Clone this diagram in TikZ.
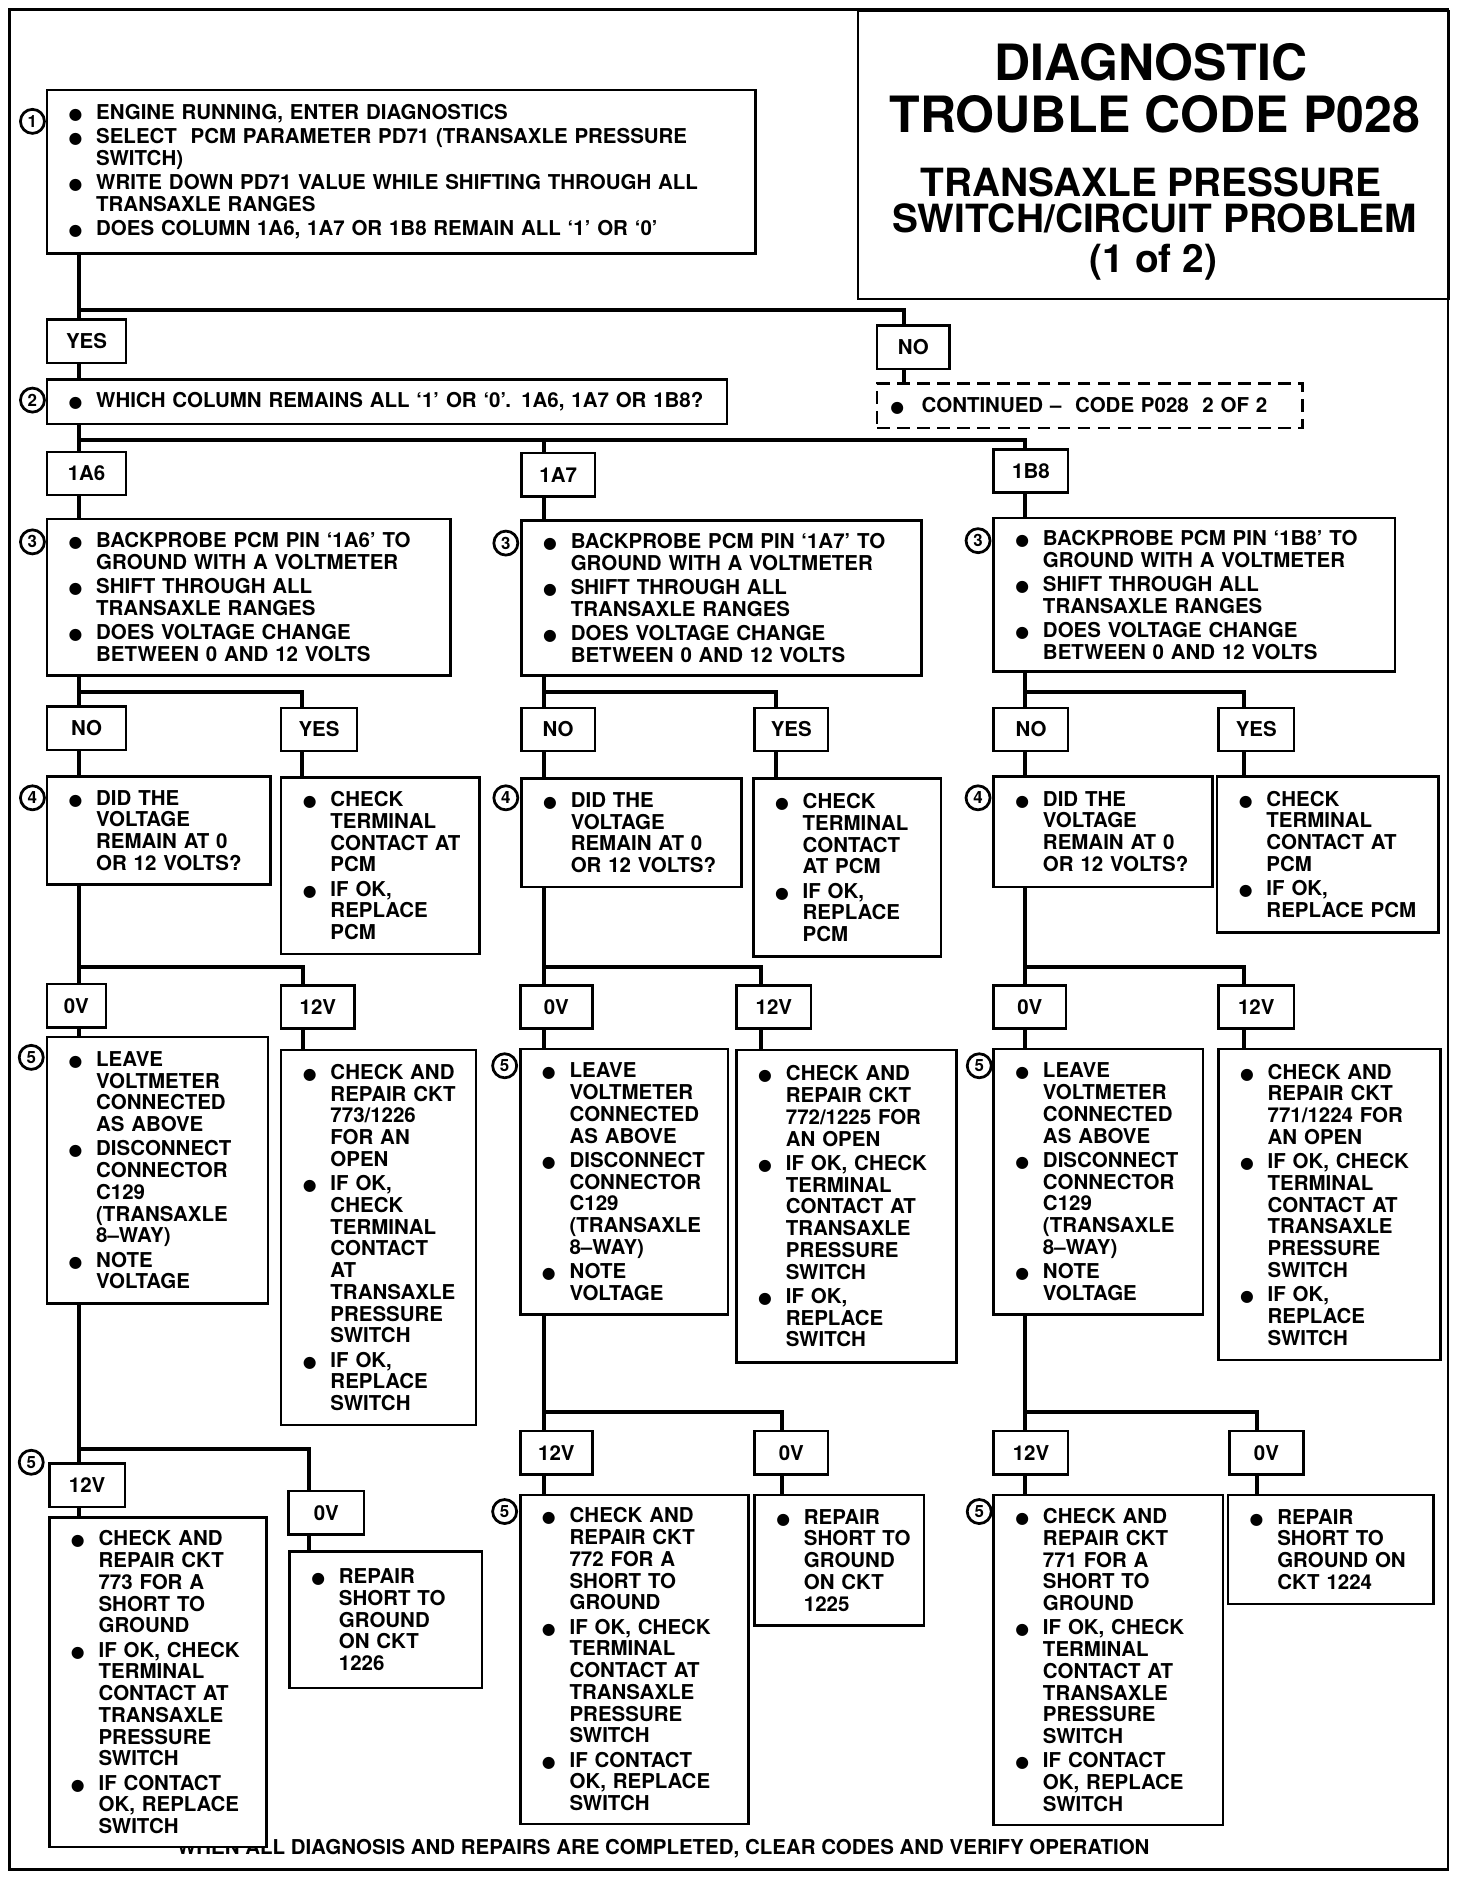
\documentclass[tikz,border=0pt]{standalone}
\usepackage{fontspec}
\setmainfont{TeX Gyre Heros}
\newfontfamily\symfont{DejaVu Sans}
\usetikzlibrary{calc}
% bullet lines inside the step boxes
\newcommand{\bdot}{{\symfont\fontsize{7.5}{7}\selectfont ●}}
\newcommand{\bul}{\hspace*{0.26cm}\makebox[0.46cm][l]{\bdot}}
\newcommand{\hng}{\hspace*{0.72cm}}
\newcommand{\nxt}{\\[1.2pt]\bul}
\begin{document}
\begin{tikzpicture}[x=0.02cm,y=-0.02cm,
    txt/.style 2 args={draw,line width=1.2pt,fill=white,anchor=north west,inner xsep=0.1cm,inner ysep=0pt,
      align=left,text width=#1,minimum height=#2,font=\fontsize{9.7}{10.3}\selectfont\bfseries},
    lbl/.style={draw,line width=1.2pt,fill=white,anchor=north west,inner sep=0pt,minimum height=0.72cm,
      minimum width=#1,font=\fontsize{9.7}{10.3}\selectfont\bfseries},
    num/.style={circle,draw,line width=1.3pt,fill=white,inner sep=0pt,minimum size=0.4cm,
      font=\fontsize{8}{8}\selectfont\bfseries},
    link/.style={line width=1.9pt}]
    \useasboundingbox (0,0) rectangle (1225,1568);

    % frame and title
    \draw[line width=1.2pt] (8,8) rectangle (1205,1556);
    \node[draw,line width=1.2pt,anchor=north west,minimum width=9.84cm,minimum height=4.8cm] (ttl) at (713,8) {};
    \node[font=\fontsize{23.7}{24}\selectfont\bfseries] (t1) at (958,52) {DIAGNOSTIC};
    \node[font=\fontsize{23.7}{24}\selectfont\bfseries] (t2) at (961,95) {TROUBLE CODE P028};
    \node[font=\fontsize{18.4}{18}\selectfont\bfseries] (t3) at (958,152) {TRANSAXLE PRESSURE};
    \node[font=\fontsize{18.4}{18}\selectfont\bfseries] (t4) at (961,182) {SWITCH/CIRCUIT PROBLEM};
    \node[font=\fontsize{18.4}{18}\selectfont\bfseries] (t5) at (960,218) {(1 of 2)};

    \node[font=\fontsize{9.7}{10.3}\selectfont\bfseries] (foot) at (552,1539)
        {WHEN ALL DIAGNOSIS AND REPAIRS ARE COMPLETED, CLEAR CODES AND VERIFY OPERATION};

    % column lines
    \coordinate (ca) at (66,0);  \coordinate (cb) at (453,0);  \coordinate (cc) at (853,0);
    \coordinate (cn) at (752,0);
    \coordinate (ya) at (251,0); \coordinate (yb) at (646,0);  \coordinate (yc) at (1035,0);
    \coordinate (va) at (252,0); \coordinate (vb) at (633,0);  \coordinate (vc) at (1035,0);
    \coordinate (ga) at (257,0); \coordinate (gb) at (651,0);  \coordinate (gc) at (1046,0);
    \coordinate (j1) at (66,258);  \coordinate (j2) at (66,366);
    \coordinate (j3a) at (66,576); \coordinate (j3b) at (453,576); \coordinate (j3c) at (853,576);
    \coordinate (j4a) at (66,805); \coordinate (j4b) at (453,805); \coordinate (j4c) at (853,805);
    \coordinate (j5a) at (66,1206); \coordinate (j5b) at (453,1175); \coordinate (j5c) at (853,1175);

    % step 1 and 2
    \node[txt={11.6cm}{2.72cm}] (q1) at (38,74) {\bul ENGINE RUNNING, ENTER DIAGNOSTICS\nxt
        SELECT\ \ PCM PARAMETER PD71 (TRANSAXLE PRESSURE\\ \hng SWITCH)\nxt
        WRITE DOWN PD71 VALUE WHILE SHIFTING THROUGH ALL\\ \hng TRANSAXLE RANGES\nxt
        DOES COLUMN 1A6, 1A7 OR 1B8 REMAIN ALL `1' OR `0'};
    \node[lbl=1.32cm] (yes1) at (38,265) {YES};
    \node[lbl=1.2cm] (no1) at (729,270) {NO};
    \node[txt={6.88cm}{0.74cm},dash pattern=on 6pt off 3.5pt] (cont) at (729,318)
        {\hspace*{0.12cm}\makebox[0.52cm][l]{\bdot}CONTINUED --\ \ CODE P028\ \ 2 OF 2};
    \node[txt={11.12cm}{0.74cm}] (q2) at (38,315) {\bul WHICH COLUMN REMAINS ALL `1' OR `0'. 1A6, 1A7 OR 1B8?};
    \node[lbl=1.32cm] (hda) at (38,375) {1A6};
    \node[lbl=1.22cm] (hdb) at (433,376) {1A7};
    \node[lbl=1.24cm] (hdc) at (826,373) {1B8};

    % step 3
    \node[txt={6.52cm}{2.6cm}] (q3a) at (38,431) {\bul BACKPROBE PCM PIN `1A6' TO\\ \hng GROUND WITH A VOLTMETER\nxt
        SHIFT THROUGH ALL\\ \hng TRANSAXLE RANGES\nxt DOES VOLTAGE CHANGE\\ \hng BETWEEN 0 AND 12 VOLTS};
    \node[txt={6.46cm}{2.58cm}] (q3b) at (433,432) {\bul BACKPROBE PCM PIN `1A7' TO\\ \hng GROUND WITH A VOLTMETER\nxt
        SHIFT THROUGH ALL\\ \hng TRANSAXLE RANGES\nxt DOES VOLTAGE CHANGE\\ \hng BETWEEN 0 AND 12 VOLTS};
    \node[txt={6.48cm}{2.56cm}] (q3c) at (826,430) {\bul BACKPROBE PCM PIN `1B8' TO\\ \hng GROUND WITH A VOLTMETER\nxt
        SHIFT THROUGH ALL\\ \hng TRANSAXLE RANGES\nxt DOES VOLTAGE CHANGE\\ \hng BETWEEN 0 AND 12 VOLTS};
    \node[lbl=1.32cm] (no3a) at (38,587) {NO};
    \node[lbl=1.26cm] (yes3a) at (233,588) {YES};
    \node[lbl=1.22cm] (no3b) at (433,588) {NO};
    \node[lbl=1.22cm] (yes3b) at (627,588) {YES};
    \node[lbl=1.24cm] (no3c) at (826,588) {NO};
    \node[lbl=1.26cm] (yes3c) at (1013,588) {YES};

    % step 4
    \node[txt={3.52cm}{1.8cm}] (q4a) at (38,645) {\bul DID THE\\ \hng VOLTAGE\\ \hng REMAIN AT 0\\ \hng OR 12 VOLTS?};
    \node[txt={3.46cm}{1.8cm}] (q4b) at (433,647) {\bul DID THE\\ \hng VOLTAGE\\ \hng REMAIN AT 0\\ \hng OR 12 VOLTS?};
    \node[txt={3.44cm}{1.84cm}] (q4c) at (826,645) {\bul DID THE\\ \hng VOLTAGE\\ \hng REMAIN AT 0\\ \hng OR 12 VOLTS?};
    \node[txt={3.1cm}{2.94cm}] (r4a) at (233,646) {\bul CHECK\\ \hng TERMINAL\\ \hng CONTACT AT\\ \hng PCM\nxt
        IF OK,\\ \hng REPLACE\\ \hng PCM};
    \node[txt={2.92cm}{2.96cm}] (r4b) at (626,647) {\bul CHECK\\ \hng TERMINAL\\ \hng CONTACT\\ \hng AT PCM\nxt
        IF OK,\\ \hng REPLACE\\ \hng PCM};
    \node[txt={3.48cm}{2.6cm}] (r4c) at (1012,645) {\bul CHECK\\ \hng TERMINAL\\ \hng CONTACT AT\\ \hng PCM\nxt
        IF OK,\\ \hng REPLACE PCM};
    \node[lbl=0.98cm] (ov4a) at (38,818) {0V};
    \node[lbl=1.22cm] (tv4a) at (233,819) {12V};
    \node[lbl=1.2cm] (ov4b) at (432,819) {0V};
    \node[lbl=1.24cm] (tv4b) at (612,819) {12V};
    \node[lbl=1.2cm] (ov4c) at (826,819) {0V};
    \node[lbl=1.26cm] (tv4c) at (1013,819) {12V};

    % step 5
    \node[txt={3.48cm}{4.44cm}] (q5a) at (38,862) {\bul LEAVE\\ \hng VOLTMETER\\ \hng CONNECTED\\ \hng AS ABOVE\nxt
        DISCONNECT\\ \hng CONNECTOR\\ \hng C129\\ \hng (TRANSAXLE\\ \hng 8--WAY)\nxt NOTE\\ \hng VOLTAGE};
    \node[txt={3.26cm}{4.42cm}] (q5b) at (432,872) {\bul LEAVE\\ \hng VOLTMETER\\ \hng CONNECTED\\ \hng AS ABOVE\nxt
        DISCONNECT\\ \hng CONNECTOR\\ \hng C129\\ \hng (TRANSAXLE\\ \hng 8--WAY)\nxt NOTE\\ \hng VOLTAGE};
    \node[txt={3.28cm}{4.42cm}] (q5c) at (826,872) {\bul LEAVE\\ \hng VOLTMETER\\ \hng CONNECTED\\ \hng AS ABOVE\nxt
        DISCONNECT\\ \hng CONNECTOR\\ \hng C129\\ \hng (TRANSAXLE\\ \hng 8--WAY)\nxt NOTE\\ \hng VOLTAGE};
    \node[txt={3.04cm}{6.24cm}] (r5a) at (233,873) {\bul CHECK AND\\ \hng REPAIR CKT\\ \hng 773/1226\\ \hng FOR AN\\ \hng OPEN\nxt
        IF OK,\\ \hng CHECK\\ \hng TERMINAL\\ \hng CONTACT\\ \hng AT\\ \hng TRANSAXLE\\ \hng PRESSURE\\ \hng SWITCH\nxt
        IF OK,\\ \hng REPLACE\\ \hng SWITCH};
    \node[txt={3.46cm}{5.2cm}] (r5b) at (612,873) {\bul CHECK AND\\ \hng REPAIR CKT\\ \hng 772/1225 FOR\\ \hng AN OPEN\nxt
        IF OK, CHECK\\ \hng TERMINAL\\ \hng CONTACT AT\\ \hng TRANSAXLE\\ \hng PRESSURE\\ \hng SWITCH\nxt
        IF OK,\\ \hng REPLACE\\ \hng SWITCH};
    \node[txt={3.5cm}{5.18cm}] (r5c) at (1013,872) {\bul CHECK AND\\ \hng REPAIR CKT\\ \hng 771/1224 FOR\\ \hng AN OPEN\nxt
        IF OK, CHECK\\ \hng TERMINAL\\ \hng CONTACT AT\\ \hng TRANSAXLE\\ \hng PRESSURE\\ \hng SWITCH\nxt
        IF OK,\\ \hng REPLACE\\ \hng SWITCH};
    \node[lbl=1.26cm] (tv5a) at (40,1217) {12V};
    \node[lbl=1.26cm] (ov5a) at (239,1240) {0V};
    \node[lbl=1.2cm] (tv5b) at (432,1190) {12V};
    \node[lbl=1.22cm] (ov5b) at (627,1190) {0V};
    \node[lbl=1.24cm] (tv5c) at (826,1190) {12V};
    \node[lbl=1.24cm] (ov5c) at (1022,1190) {0V};

    % last repairs
    \node[txt={3.42cm}{5.48cm}] (s6a) at (40,1262) {\bul CHECK AND\\ \hng REPAIR CKT\\ \hng 773 FOR A\\ \hng SHORT TO\\ \hng GROUND\nxt
        IF OK, CHECK\\ \hng TERMINAL\\ \hng CONTACT AT\\ \hng TRANSAXLE\\ \hng PRESSURE\\ \hng SWITCH\nxt
        IF CONTACT\\ \hng OK, REPLACE\\ \hng SWITCH};
    \node[txt={3.6cm}{5.48cm}] (s6b) at (432,1243) {\bul CHECK AND\\ \hng REPAIR CKT\\ \hng 772 FOR A\\ \hng SHORT TO\\ \hng GROUND\nxt
        IF OK, CHECK\\ \hng TERMINAL\\ \hng CONTACT AT\\ \hng TRANSAXLE\\ \hng PRESSURE\\ \hng SWITCH\nxt
        IF CONTACT\\ \hng OK, REPLACE\\ \hng SWITCH};
    \node[txt={3.62cm}{5.5cm}] (s6c) at (826,1243) {\bul CHECK AND\\ \hng REPAIR CKT\\ \hng 771 FOR A\\ \hng SHORT TO\\ \hng GROUND\nxt
        IF OK, CHECK\\ \hng TERMINAL\\ \hng CONTACT AT\\ \hng TRANSAXLE\\ \hng PRESSURE\\ \hng SWITCH\nxt
        IF CONTACT\\ \hng OK, REPLACE\\ \hng SWITCH};
    \node[txt={3.0cm}{2.28cm}] (g6a) at (240,1290) {\bul REPAIR\\ \hng SHORT TO\\ \hng GROUND\\ \hng ON CKT\\ \hng 1226};
    \node[txt={2.62cm}{2.18cm}] (g6b) at (627,1243) {\bul REPAIR\\ \hng SHORT TO\\ \hng GROUND\\ \hng ON CKT\\ \hng 1225};
    \node[txt={3.22cm}{1.82cm}] (g6c) at (1021,1243) {\bul REPAIR\\ \hng SHORT TO\\ \hng GROUND ON\\ \hng CKT 1224};

    % step numbers
    \node[num] (n1) at (27,101) {1};
    \node[num] (n2) at (27,333) {2};
    \node[num] (n3a) at (27,451) {3};  \node[num] (n3b) at (421,452) {3};  \node[num] (n3c) at (814,450) {3};
    \node[num] (n4a) at (27,664) {4};  \node[num] (n4b) at (421,664) {4};  \node[num] (n4c) at (814,664) {4};
    \node[num] (n5a) at (26,880) {5};  \node[num] (n5b) at (420,887) {5};  \node[num] (n5c) at (815,887) {5};
    \node[num] (n6a) at (26,1217) {5}; \node[num] (n6b) at (420,1258) {5}; \node[num] (n6c) at (815,1258) {5};

    % connectors
    \draw[link] (q1.south -| ca) -- (yes1.north -| ca);
    \draw[link] (j1) -| (no1.north -| cn);
    \draw[link] (no1.south -| cn) -- (cont.north -| cn);
    \draw[link] (yes1.south -| ca) -- (q2.north -| ca);
    \draw[link] (q2.south -| ca) -- (hda.north -| ca);
    \draw[link] (j2) -| (hdb.north -| cb);
    \draw[link] (j2) -| (hdc.north -| cc);
    \foreach \k/\x/\y/\v/\g in {a/ca/ya/va/ga, b/cb/yb/vb/gb, c/cc/yc/vc/gc} {
        \draw[link] (hd\k.south -| \x) -- (q3\k.north -| \x);
        \draw[link] (q3\k.south -| \x) -- (no3\k.north -| \x);
        \draw[link] (j3\k) -| (yes3\k.north -| \y);
        \draw[link] (no3\k.south -| \x) -- (q4\k.north -| \x);
        \draw[link] (yes3\k.south -| \y) -- (r4\k.north -| \y);
        \draw[link] (q4\k.south -| \x) -- (ov4\k.north -| \x);
        \draw[link] (j4\k) -| (tv4\k.north -| \v);
        \draw[link] (ov4\k.south -| \x) -- (q5\k.north -| \x);
        \draw[link] (tv4\k.south -| \v) -- (r5\k.north -| \v);
        \draw[link] (q5\k.south -| \x) -- (tv5\k.north -| \x);
        \draw[link] (j5\k) -| (ov5\k.north -| \g);
        \draw[link] (tv5\k.south -| \x) -- (s6\k.north -| \x);
        \draw[link] (ov5\k.south -| \g) -- (g6\k.north -| \g);
    }
\end{tikzpicture}
\end{document}
